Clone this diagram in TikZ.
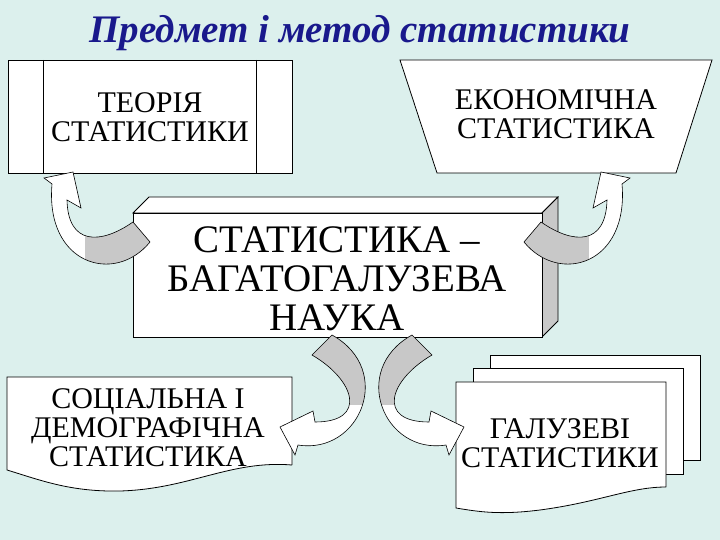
\documentclass[tikz,border=0pt]{standalone}
\usepackage{fontspec}
\setmainfont{Liberation Serif}
\definecolor{bg}{RGB}{220,240,237}
\definecolor{ttl}{RGB}{25,25,140}
\definecolor{arrg}{RGB}{200,200,200}
\begin{document}
\begin{tikzpicture}[x=1pt,y=-1pt,
  shp/.style={draw=black,fill=white,line width=0.8pt},
  txt/.style={align=center,font=\fontsize{30}{29}\selectfont},
  bigtxt/.style={align=center,font=\fontsize{39}{39}\selectfont},
  arrline/.style={draw=black,line width=0.6pt}]
\fill[bg] (0,0) rectangle (720,540);
\useasboundingbox (0,0) rectangle (720,540);
\node[font=\fontsize{39}{40}\selectfont\bfseries\itshape,text=ttl] (title) at (360,33) {Предмет і метод статистики};
% theory box
\draw[shp] (8,60) rectangle (292,173);
\draw[line width=0.8pt] (43,60) -- (43,173) (256,60) -- (256,173);
\node[txt] (theory) at (150,117) {ТЕОРІЯ\\СТАТИСТИКИ};
% economic trapezoid
\draw[shp] (400,60) -- (712,60) -- (676,173) -- (437,173) -- cycle;
\node[txt] (econ) at (556,114) {ЕКОНОМІЧНА\\СТАТИСТИКА};
% center 3d box
\draw[shp] (133,213) -- (149,197) -- (558,197) -- (542,213) -- cycle;
\draw[draw=black,fill=arrg,line width=0.8pt] (542,213) -- (558,197) -- (558,321) -- (542,337) -- cycle;
\draw[shp] (133,213) rectangle (542,337);
\node[bigtxt] (center) at (337,279) {СТАТИСТИКА –\\БАГАТОГАЛУЗЕВА\\НАУКА};
% arrows top
\def\arrA{(133,222) .. controls (100,245) and (68,245) .. (67,200) -- (81,208) -- (73,172) -- (44,178) -- (52,184) .. controls (45,265) and (115,285) .. (150,242) -- cycle}
\begin{scope}
\path[fill=white] \arrA;
\begin{scope}\clip \arrA; \fill[arrg] (85,200) rectangle (160,300);\end{scope}
\path[arrline] \arrA;
\end{scope}
\begin{scope}[xshift=674pt,xscale=-1]
\path[fill=white] \arrA;
\begin{scope}\clip \arrA; \fill[arrg] (85,200) rectangle (160,300);\end{scope}
\path[arrline] \arrA;
\end{scope}
% social document
\draw[shp] (292,465) -- (292,377) -- (7,377) -- (7,470) .. controls (40,480) and (70,492) .. (120,491) .. controls (190,489) and (230,460) .. (292,465);
\node[txt] (social) at (148,428) {СОЦІАЛЬНА І\\ДЕМОГРАФІЧНА\\СТАТИСТИКА};
% multidocument
\draw[shp] (490,355) rectangle (700,460);
\draw[shp] (473,368) rectangle (683,474);
\draw[shp] (666,487) -- (666,382) -- (456,382) -- (456,508) .. controls (480,512) and (500,515) .. (540,510) .. controls (600,502) and (630,487) .. (666,487);
\node[txt] (branch) at (560,443) {ГАЛУЗЕВІ\\СТАТИСТИКИ};
% bottom arrows
\def\arrB{(312,355) .. controls (355,380) and (368,422) .. (315,422) -- (313,411) -- (280,427) -- (295,455) -- (298,445) .. controls (360,455) and (395,370) .. (332,335) -- cycle}
\begin{scope}[xshift=744pt,xscale=-1]
\path[fill=white] \arrB;
\begin{scope}\clip \arrB; \fill[arrg] (300,320) rectangle (400,405);\end{scope}
\path[arrline] \arrB;
\end{scope}
\path[fill=white] \arrB;
\begin{scope}\clip \arrB; \fill[arrg] (300,320) rectangle (400,405);\end{scope}
\path[arrline] \arrB;
\end{tikzpicture}
\end{document}
